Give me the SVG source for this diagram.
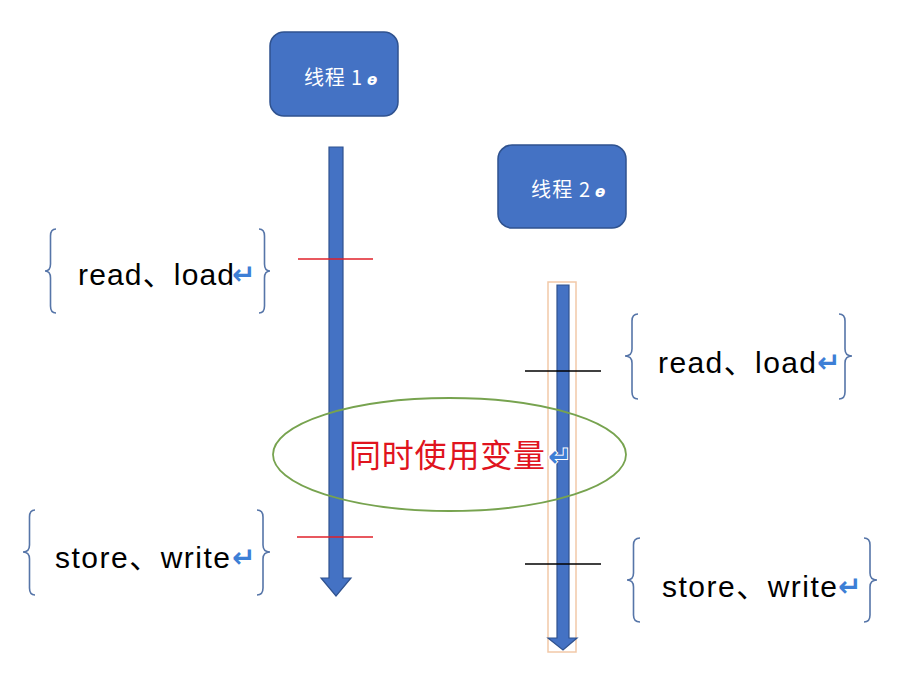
<svg xmlns="http://www.w3.org/2000/svg" width="906" height="684" viewBox="0 0 906 684">
<style>
.box{fill:#4472C4;stroke:#2F528F;stroke-width:1.5}
.boxt{fill:#fff;font-family:"Noto Sans CJK SC","Liberation Sans",sans-serif;font-size:20px}
.mk{fill:#fff;font-family:"DejaVu Sans",sans-serif;font-size:15px;font-weight:bold;font-style:italic}
.shaft{fill:#4472C4;stroke:#2F528F;stroke-width:1.2}
.brace{fill:none;stroke:#5675A8;stroke-width:1.6}
.lbl{fill:#000;font-family:"Liberation Sans","Noto Sans CJK SC",sans-serif;font-size:30px}
.ret{fill:#3D7FD6;font-family:"DejaVu Sans",sans-serif;font-size:28px;font-weight:bold}
.red{stroke:#E0202A;stroke-width:1.6}
.blk{stroke:#000;stroke-width:1.6}
</style>
<rect width="906" height="684" fill="#fff"/>

<g id="thread1">
<rect class="box" x="270" y="32" width="128" height="84" rx="14"/>
<text class="boxt" x="304" y="85" textLength="58">线程 1</text>
<text class="mk" x="367" y="85">ɵ</text>
</g>

<g id="thread2">
<rect class="box" x="498" y="145" width="128" height="83" rx="14"/>
<text class="boxt" x="531" y="197" textLength="59">线程 2</text>
<text class="mk" x="595" y="197">ɵ</text>
</g>

<g id="connectors">
<path class="shaft" d="M329,147 H343 V578 H351 L336,596 L321,578 H329 Z"/>
<rect x="548" y="282" width="28" height="370" fill="none" stroke="#F2C9A8" stroke-width="1.5"/>
<path class="shaft" d="M557,285 H569 V638 H577 L563,650 L548,638 H557 Z"/>
<line class="red" x1="298" y1="259" x2="373" y2="259"/>
<line class="red" x1="297" y1="537" x2="373" y2="537"/>
<line class="blk" x1="525" y1="371" x2="601" y2="371"/>
<line class="blk" x1="525" y1="564" x2="601" y2="564"/>
</g>

<g id="shared-variable">
<ellipse cx="449.5" cy="454.5" rx="176.5" ry="56.5" fill="none" stroke="#77A34F" stroke-width="1.8"/>
<text x="349" y="467" fill="#E0141E" font-family="'Noto Sans CJK SC',sans-serif" font-size="32" textLength="196">同时使用变量</text>
<text class="ret" x="548" y="466" stroke="#fff" stroke-width="2" paint-order="stroke">↵</text>
</g>

<g id="t1-read-load">
<path class="brace" d="M56,229 Q50.5,229 50.5,236 L50.5,264 Q50.5,271 45,271 Q50.5,271 50.5,278 L50.5,306 Q50.5,313 56,313"/>
<path class="brace" d="M259,229 Q264.5,229 264.5,236 L264.5,264 Q264.5,271 270,271 Q264.5,271 264.5,278 L264.5,306 Q264.5,313 259,313"/>
<text class="lbl" x="78" y="285" textLength="156">read、load</text>
<text class="ret" x="232" y="284">↵</text>
</g>

<g id="t1-store-write">
<path class="brace" d="M35,510 Q29.5,510 29.5,517 L29.5,545 Q29.5,552 23,552 Q29.5,552 29.5,559 L29.5,588 Q29.5,595 35,595"/>
<path class="brace" d="M257,510 Q263,510 263,517 L263,545 Q263,552 270,552 Q263,552 263,559 L263,588 Q263,595 257,595"/>
<text class="lbl" x="55" y="568" textLength="175">store、write</text>
<text class="ret" x="232" y="567">↵</text>
</g>

<g id="t2-read-load">
<path class="brace" d="M638,314 Q632,314 632,321 L632,349 Q632,356 625,356 Q632,356 632,363 L632,392 Q632,399 638,399"/>
<path class="brace" d="M839,314 Q845,314 845,321 L845,349 Q845,356 852,356 Q845,356 845,363 L845,392 Q845,399 839,399"/>
<text class="lbl" x="658" y="373" textLength="158">read、load</text>
<text class="ret" x="817" y="372">↵</text>
</g>

<g id="t2-store-write">
<path class="brace" d="M640,538 Q633.5,538 633.5,545 L633.5,573 Q633.5,580 627,580 Q633.5,580 633.5,587 L633.5,615 Q633.5,622 640,622"/>
<path class="brace" d="M864,538 Q870,538 870,545 L870,573 Q870,580 877,580 Q870,580 870,587 L870,615 Q870,622 864,622"/>
<text class="lbl" x="662" y="597" textLength="175">store、write</text>
<text class="ret" x="838" y="596">↵</text>
</g>
</svg>
